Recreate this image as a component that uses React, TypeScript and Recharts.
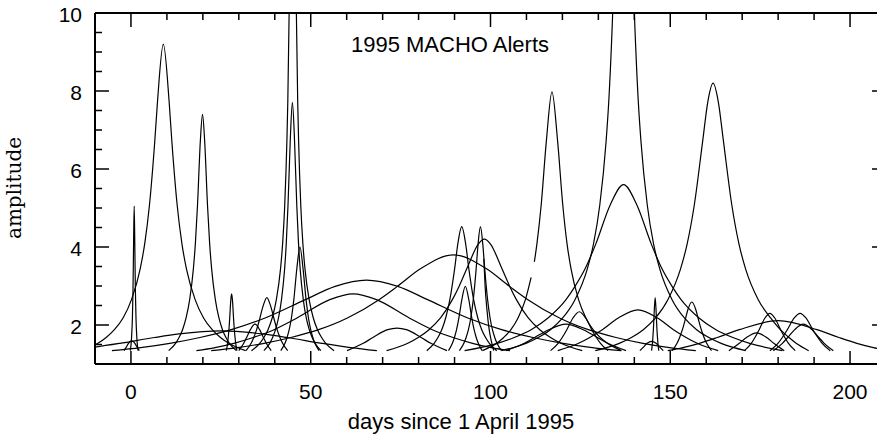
import React from 'react';
import { LineChart, Line, XAxis, YAxis } from 'recharts';

type P = [number, number | null];

// Light curves: [days since 1 April 1995, amplitude]; null marks a gap in a curve
const ev01: P[] = [[-1.92,1.342],[-1.39,1.42],[-0.69,1.53],[0.2,1.6],[1.09,1.53],[1.79,1.42],[2.32,1.342]];
const ev02: P[] = [[-0.18,1.342],[0.17,1.68],[0.4,2.18],[0.57,2.9],[0.73,4.08],[0.9,5.05],[1.07,4.08],[1.23,2.9],[1.4,2.18],[1.63,1.68],[1.98,1.342]];
const ev03: P[] = [[-13.9,1.342],[-9.2,1.53],[-6.9,1.68],[-4.6,1.88],[-2.2,2.18],[0.15,2.65],[2.57,3.44],[3.82,4.08],[5.14,5.07],[6.63,6.72],[7.37,7.71],[9,9.2],[10.63,7.71],[11.37,6.72],[12.86,5.07],[14.18,4.08],[15.43,3.44],[17.85,2.65],[20.2,2.18],[22.6,1.88],[24.9,1.68],[27.2,1.53],[31.9,1.342]];
const ev04: P[] = [[10.49,1.342],[12.41,1.53],[13.38,1.68],[14.35,1.88],[15.33,2.18],[16.33,2.65],[17.36,3.44],[17.91,4.08],[18.51,5.07],[19.3,6.72],[19.9,7.4],[20.5,6.72],[21.29,5.07],[21.89,4.08],[22.44,3.44],[23.47,2.65],[24.47,2.18],[25.45,1.88],[26.42,1.68],[27.39,1.53],[29.31,1.342]];
const ev05: P[] = [[26.52,1.342],[26.87,1.53],[27.05,1.68],[27.25,1.88],[27.47,2.18],[27.78,2.65],[28,2.8],[28.22,2.65],[28.53,2.18],[28.75,1.88],[28.95,1.68],[29.13,1.53],[29.48,1.342]];
const ev06: P[] = [[32.01,1.342],[33.42,1.53],[34.16,1.68],[34.95,1.88],[35.87,2.18],[36.44,2.39],[36.9,2.53],[37.8,2.7],[38.7,2.53],[39.16,2.39],[39.73,2.18],[40.65,1.88],[41.44,1.68],[42.18,1.53],[43.59,1.342]];
const ev07: P[] = [[29.99,1.342],[31.36,1.53],[32.16,1.68],[33.21,1.88],[34.5,2.02],[35.79,1.88],[36.84,1.68],[37.64,1.53],[39.01,1.342]];
const ev08: P[] = [[33.51,1.342],[35.82,1.53],[36.97,1.68],[38.12,1.88],[39.28,2.18],[40.44,2.65],[41.6,3.44],[42.18,4.08],[42.77,5.07],[43.37,6.72],[43.62,7.71],[44,10.04],[45,20],[46,10.04],[46.38,7.71],[46.63,6.72],[47.23,5.07],[47.82,4.08],[48.4,3.44],[49.56,2.65],[50.72,2.18],[51.88,1.88],[53.03,1.68],[54.18,1.53],[56.49,1.342]];
const ev09: P[] = [[36.97,1.342],[38.59,1.53],[39.4,1.68],[40.21,1.88],[41.04,2.18],[41.87,2.65],[42.74,3.44],[43.19,4.08],[43.68,5.07],[44.3,6.72],[44.9,7.71],[45.5,6.72],[46.12,5.07],[46.61,4.08],[47.06,3.44],[47.93,2.65],[48.76,2.18],[49.59,1.88],[50.4,1.68],[51.21,1.53],[52.83,1.342]];
const ev10: P[] = [[41.68,1.342],[42.83,1.53],[43.42,1.68],[44.01,1.88],[44.63,2.18],[45.3,2.65],[46.13,3.44],[47,4.0],[47.87,3.44],[48.7,2.65],[49.37,2.18],[49.99,1.88],[50.58,1.68],[51.17,1.53],[52.32,1.342]];
const ev11: P[] = [[-18.4,1.342],[-11.1,1.42],[-3.1,1.53],[6.6,1.68],[13.4,1.77],[25,1.85],[36.6,1.77],[43.4,1.68],[53.1,1.53],[61.1,1.42],[68.4,1.342]];
const ev13: P[] = [[-5.3,1.342],[2.7,1.42],[10.8,1.53],[19.2,1.68],[27.9,1.88],[37.3,2.18],[48.5,2.65],[56.8,2.99],[65.5,3.15],[74.2,2.99],[82.5,2.65],[93.7,2.18],[103.1,1.88],[111.8,1.68],[120.2,1.53],[128.3,1.42],[136.3,1.342]];
const ev14: P[] = [[18.2,1.342],[23.4,1.42],[28.6,1.53],[34,1.68],[39.8,1.88],[46.2,2.18],[55.3,2.65],[61.8,2.8],[68.3,2.65],[77.4,2.18],[83.8,1.88],[89.6,1.68],[95,1.53],[100.2,1.42],[105.4,1.342]];
const ev15: P[] = [[60.1,1.342],[64.6,1.53],[67.3,1.68],[71.4,1.88],[74,1.92],[76.6,1.88],[80.7,1.68],[83.4,1.53],[87.9,1.342]];
const ev16: P[] = [[22.3,1.342],[29.6,1.42],[37,1.53],[44.5,1.68],[52.2,1.88],[60.2,2.18],[69,2.65],[74.1,2.99],[80.5,3.44],[89.7,3.8],[98.9,3.44],[105.3,2.99],[110.4,2.65],[119.2,2.18],[127.2,1.88],[134.9,1.68],[142.4,1.53],[149.8,1.42],[157.1,1.342]];
const ev17: P[] = [[82.26,1.342],[84.32,1.53],[85.37,1.68],[86.44,1.88],[87.53,2.18],[88.69,2.65],[90.02,3.44],[90.91,4.08],[92,4.52],[93.09,4.08],[93.98,3.44],[95.31,2.65],[96.47,2.18],[97.56,1.88],[98.63,1.68],[99.68,1.53],[101.74,1.342]];
const ev18: P[] = [[91.36,1.342],[92.59,1.53],[93.22,1.68],[93.86,1.88],[94.52,2.18],[95.21,2.65],[96.01,3.44],[96.55,4.08],[97.2,4.52],[97.85,4.08],[98.39,3.44],[99.19,2.65],[99.88,2.18],[100.54,1.88],[101.18,1.68],[101.81,1.53],[103.04,1.342]];
const ev19: P[] = [[71.1,1.342],[77,1.53],[79.9,1.68],[82.9,1.88],[86.1,2.18],[89.4,2.65],[91.25,2.99],[93.4,3.44],[96.65,4.08],[98.3,4.2],[99.95,4.08],[103.2,3.44],[105.35,2.99],[107.2,2.65],[110.5,2.18],[113.7,1.88],[116.7,1.68],[119.6,1.53],[125.5,1.342]];
const ev20: P[] = [[88.32,1.342],[89.4,1.53],[89.97,1.68],[90.56,1.88],[91.21,2.18],[92.03,2.65],[93,2.99],[93.97,2.65],[94.79,2.18],[95.44,1.88],[96.03,1.68],[96.6,1.53],[97.68,1.342]];
const ev21: P[] = [[97.76,1.342],[101.7,1.53],[103.68,1.68],[105.67,1.88],[107.66,2.18],[109.71,2.65],[111.3,3.22],[111.75,null],[112.2,3.62],[112.91,4.08],[114.09,5.07],[115.54,6.72],[117.1,7.98],[118.66,6.72],[120.11,5.07],[121.29,4.08],[122.4,3.44],[124.49,2.65],[126.54,2.18],[128.53,1.88],[130.52,1.68],[132.5,1.53],[136.44,1.342]];
const ev22: P[] = [[103.04,1.342],[109.84,1.53],[113.26,1.68],[116.66,1.88],[120.07,2.18],[123.5,2.65],[126.93,3.44],[128.65,4.08],[130.39,5.07],[132.16,6.72],[132.88,7.71],[134,10.04],[137,21.3],[140,10.04],[141.12,7.71],[141.84,6.72],[143.61,5.07],[145.35,4.08],[147.07,3.44],[150.5,2.65],[153.93,2.18],[157.34,1.88],[160.74,1.68],[164.16,1.53],[170.96,1.342]];
const ev23: P[] = [[92.8,1.342],[101.9,1.53],[106.6,1.68],[111.3,1.88],[116,2.18],[121,2.65],[123.5,2.99],[126.3,3.44],[129.3,4.08],[133.26,5.07],[137,5.6],[140.74,5.07],[144.7,4.08],[147.7,3.44],[150.5,2.99],[153,2.65],[158,2.18],[162.7,1.88],[167.4,1.68],[172.1,1.53],[181.2,1.342]];
const ev24: P[] = [[129.15,1.342],[135.8,1.53],[139.2,1.68],[142.5,1.88],[145.9,2.18],[149.33,2.65],[152.86,3.44],[154.7,4.08],[156.67,5.07],[159.02,6.72],[160.42,7.71],[161.9,8.2],[163.38,7.71],[164.78,6.72],[167.13,5.07],[169.1,4.08],[170.94,3.44],[174.47,2.65],[177.9,2.18],[180.6,1.88],[183,1.68],[185,1.53],[188.5,1.342]];
const ev25: P[] = [[144.79,1.342],[145.03,1.53],[145.16,1.68],[145.3,1.88],[145.46,2.18],[145.56,2.39],[145.8,2.7],[146.04,2.39],[146.14,2.18],[146.3,1.88],[146.44,1.68],[146.57,1.53],[146.81,1.342]];
const ev26: P[] = [[141.55,1.342],[142.39,1.42],[143.55,1.53],[144.8,1.58],[146.05,1.53],[147.21,1.42],[148.05,1.342]];
const ev27: P[] = [[150.53,1.342],[151.88,1.53],[152.6,1.68],[153.37,1.88],[154.28,2.18],[154.89,2.39],[156,2.59],[157.11,2.39],[157.72,2.18],[158.63,1.88],[159.4,1.68],[160.12,1.53],[161.47,1.342]];
const ev28: P[] = [[170.64,1.342],[172.52,1.53],[173.55,1.68],[174.72,1.88],[176.34,2.18],[177.7,2.3],[179.06,2.18],[180.68,1.88],[181.85,1.68],[182.88,1.53],[184.76,1.342]];
const ev29: P[] = [[177.71,1.342],[179.95,1.53],[181.17,1.68],[182.56,1.88],[184.48,2.18],[186.1,2.3],[187.72,2.18],[189.64,1.88],[191.03,1.68],[192.25,1.53],[194.49,1.342]];
const ev30: P[] = [[178.65,1.342],[181.19,1.53],[182.67,1.68],[184.6,1.88],[187,2.02],[189.4,1.88],[191.33,1.68],[192.81,1.53],[195.35,1.342]];
const ev31: P[] = [[149.3,1.342],[153.5,1.42],[158.1,1.53],[163.1,1.68],[169.2,1.88],[180,2.11],[190.8,1.88],[196.9,1.68],[201.9,1.53],[206.5,1.42],[210.7,1.342]];
const ev32: P[] = [[118.7,1.342],[124.5,1.53],[127.6,1.68],[131.1,1.88],[135.55,2.18],[141,2.39],[146.45,2.18],[150.9,1.88],[154.4,1.68],[157.5,1.53],[163.3,1.342]];
const ev33: P[] = [[116.71,1.342],[118.81,1.53],[119.95,1.68],[121.23,1.88],[122.94,2.18],[124.7,2.34],[126.46,2.18],[128.17,1.88],[129.45,1.68],[130.59,1.53],[132.69,1.342]];
const ev34: P[] = [[104.3,1.342],[109.4,1.53],[112.3,1.68],[116.2,1.88],[121,2.02],[125.8,1.88],[129.7,1.68],[132.6,1.53],[137.7,1.342]];
const ev35: P[] = [[166.3,1.342],[169.2,1.53],[171.2,1.68],[174,1.8],[176.8,1.68],[178.8,1.53],[181.7,1.342]];
const ev36: P[] = [[98.15,3.7],[98.5,3.0],[99.0,2.4],[99.6,1.9],[100.2,1.6],[100.9,1.342]];

const events: P[][] = [ev01,ev02,ev03,ev04,ev05,ev06,ev07,ev08,ev09,ev10,ev11,ev13,ev14,ev15,ev16,ev17,ev18,ev19,ev20,ev21,ev22,ev23,ev24,ev25,ev26,ev27,ev28,ev29,ev30,ev31,ev32,ev33,ev34,ev35,ev36];

// Axis ticks
const xTicks = [0,10,20,30,40,50,60,70,80,90,100,110,120,130,140,150,160,170,180,190,200];
const xMajor = [0,50,100,150,200];
const yTicks = [1.5,2,2.5,3,3.5,4,4.5,5,5.5,6,6.5,7,7.5,8,8.5,9,9.5,10];
const yMajor = [2,4,6,8,10];

const title = '1995 MACHO Alerts';
const xTitle = 'days since 1 April 1995';
const yTitle = 'amplitude';

const SANS = '"Liberation Sans", Arial, Helvetica, sans-serif';
const SERIF = '"DejaVu Serif", serif';

const BottomTick = (props: any) => {
  const { x, y, payload } = props;
  const major = xMajor.includes(payload.value);
  return (
    <g>
      <line x1={x} x2={x} y1={y} y2={y - (major ? 13 : 7)} stroke="#000" strokeWidth={1.5} />
      {major && (
        <text x={x} y={y + 35} textAnchor="middle" fontSize={21} fontFamily={SANS} fill="#000">{payload.value}</text>
      )}
    </g>
  );
};

const TopTick = (props: any) => {
  const { x, y, payload } = props;
  const major = xMajor.includes(payload.value);
  return <line x1={x} x2={x} y1={y} y2={y + (major ? 14 : 7)} stroke="#000" strokeWidth={1.5} />;
};

const LeftTick = (props: any) => {
  const { x, y, payload } = props;
  const major = yMajor.includes(payload.value);
  return (
    <g>
      <line x1={x} x2={x + (major ? 14 : 7)} y1={y} y2={y} stroke="#000" strokeWidth={1.5} />
      {major && (
        <text x={x - 13} y={y + 9} textAnchor="end" fontSize={21} fontFamily={SANS} fill="#000">{payload.value}</text>
      )}
    </g>
  );
};

const RightTick = (props: any) => {
  const { x, y, payload } = props;
  const major = yMajor.includes(payload.value);
  return <line x1={x - (major ? 14 : 7)} x2={x} y1={y} y2={y} stroke="#000" strokeWidth={1.5} />;
};

export default function App() {
  return (
    <div style={{ position: 'absolute', left: 0, top: 0, width: 877, height: 435, overflow: 'hidden', background: '#fff' }}>
      <LineChart width={900} height={435} margin={{ top: 12, right: 13, bottom: 70, left: 94 }}>
        <XAxis xAxisId="b" dataKey="t" type="number" domain={[-10, 210]} allowDataOverflow ticks={xTicks} interval={0}
          orientation="bottom" height={1} tickSize={0} tickMargin={0} tickLine={false}
          axisLine={{ stroke: '#000', strokeWidth: 2 }} tick={BottomTick} />
        <XAxis xAxisId="t" dataKey="t" type="number" domain={[-10, 210]} allowDataOverflow ticks={xTicks} interval={0}
          orientation="top" height={1} tickSize={0} tickMargin={0} tickLine={false}
          axisLine={{ stroke: '#000', strokeWidth: 2 }} tick={TopTick} />
        <YAxis yAxisId="l" type="number" domain={[1, 10]} allowDataOverflow ticks={yTicks} interval={0}
          orientation="left" width={1} tickSize={0} tickMargin={0} tickLine={false}
          axisLine={{ stroke: '#000', strokeWidth: 2 }} tick={LeftTick} />
        <YAxis yAxisId="r" type="number" domain={[1, 10]} allowDataOverflow ticks={yTicks} interval={0}
          orientation="right" width={1} tickSize={0} tickMargin={0} tickLine={false}
          axisLine={{ stroke: '#000', strokeWidth: 2 }} tick={RightTick} />
        {events.map((ev, i) => (
          <Line key={i} xAxisId="b" yAxisId="l" data={ev.map(([t, a]) => ({ t, a }))} dataKey="a" type="monotone"
            connectNulls={false} dot={false} activeDot={false} stroke="#000" strokeWidth={1.2} isAnimationActive={false} />
        ))}
      </LineChart>
      <svg width={877} height={435} style={{ position: 'absolute', left: 0, top: 0, pointerEvents: 'none' }}>
        <text x={450} y={52} textAnchor="middle" fontSize={22} fontFamily={SANS} fill="#000">{title}</text>
        <text x={461} y={429} textAnchor="middle" fontSize={22} fontFamily={SANS} fill="#000">{xTitle}</text>
        <text transform="translate(21,188) rotate(-90)" textAnchor="middle" fontSize={20} fontFamily={SERIF} fill="#000">{yTitle}</text>
      </svg>
    </div>
  );
}
